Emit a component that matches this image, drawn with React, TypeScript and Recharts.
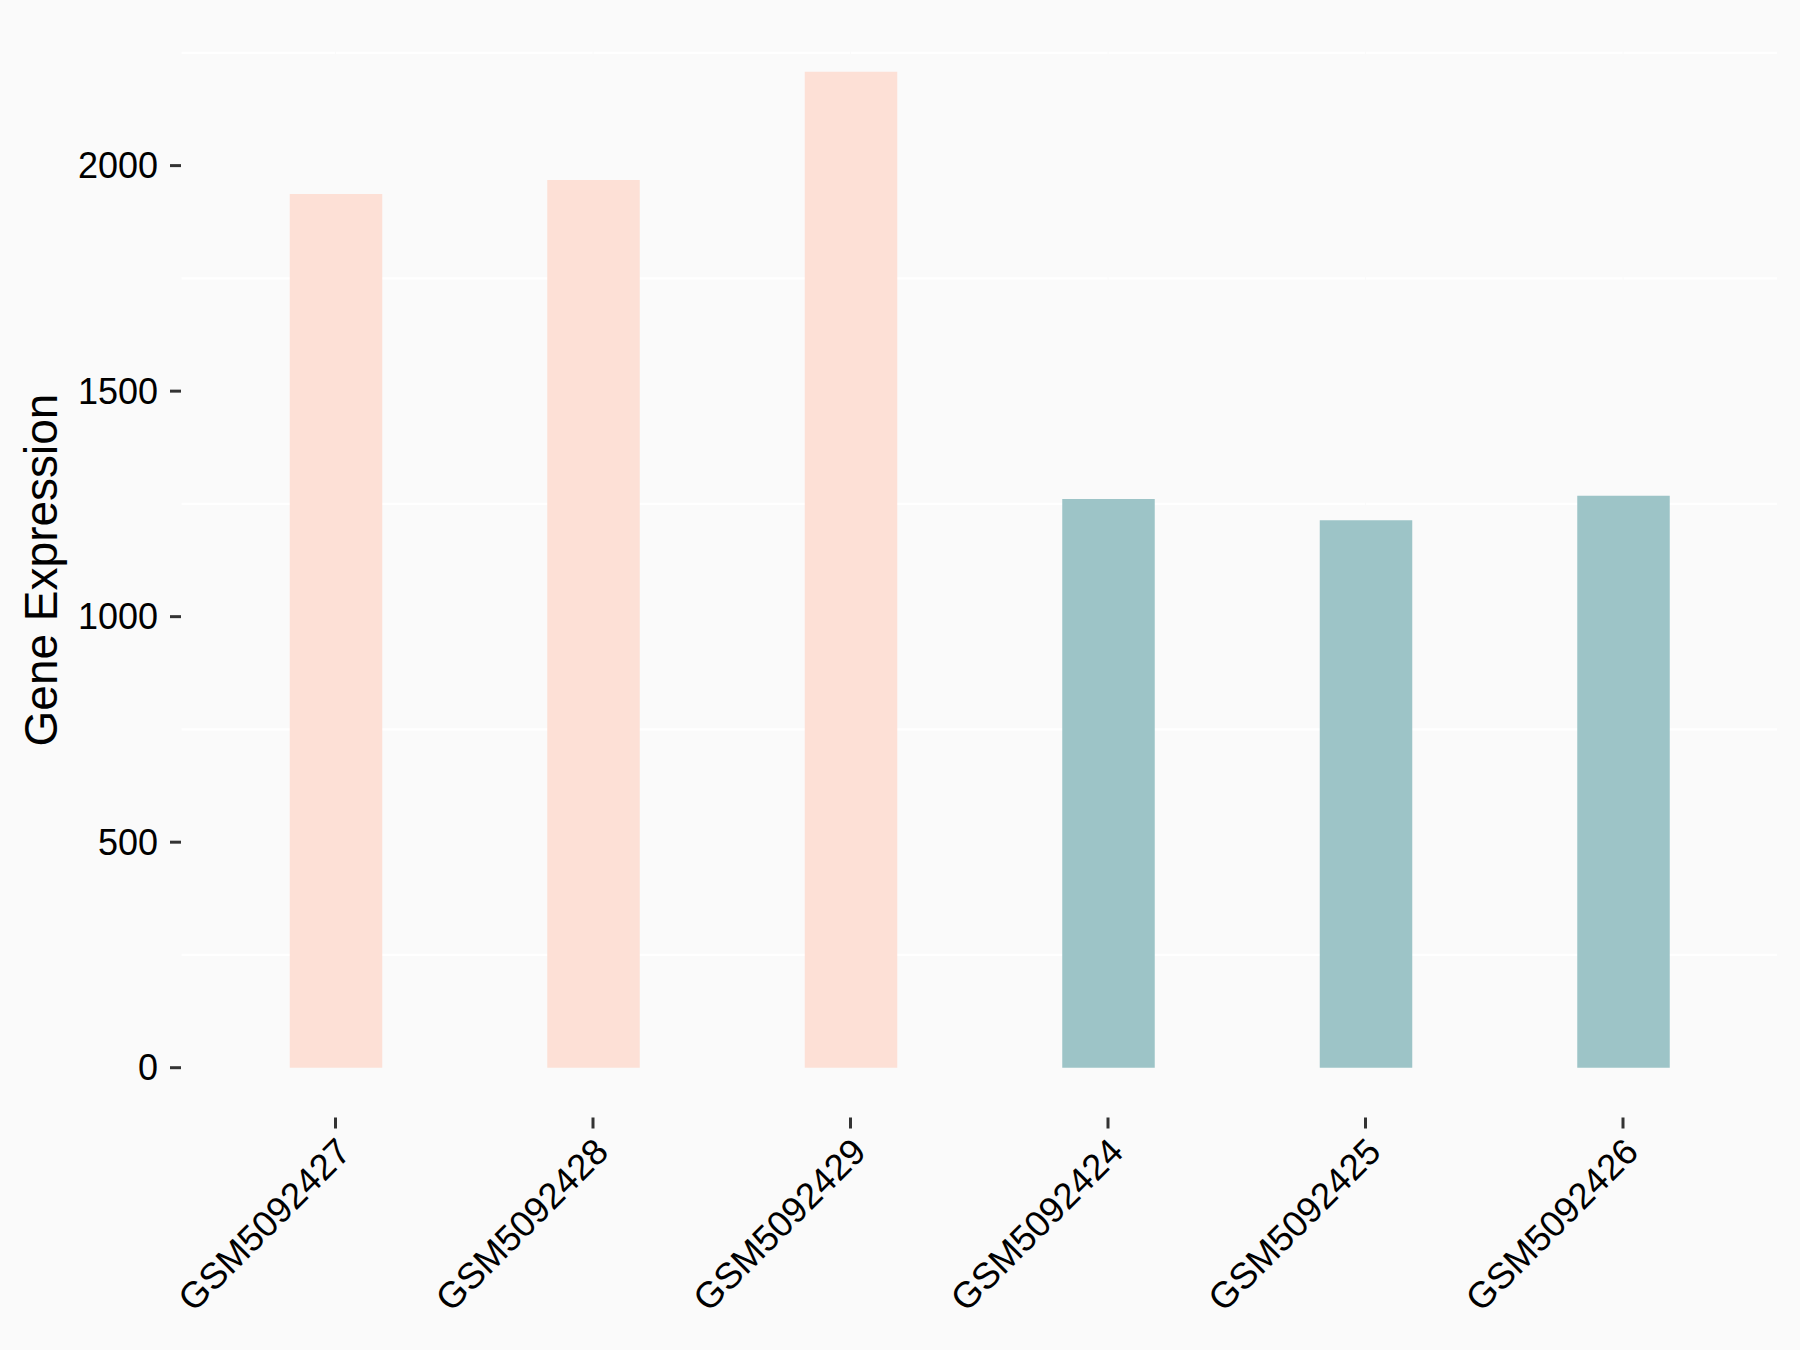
import React from "react";
import { BarChart, Bar, XAxis, YAxis, CartesianGrid, Cell } from "recharts";

const samples = ["GSM5092427", "GSM5092428", "GSM5092429", "GSM5092424", "GSM5092425", "GSM5092426"];
const expression = [1937, 1968, 2208, 1261, 1214, 1268];
const groups = ["pink", "pink", "pink", "teal", "teal", "teal"];
const yTicks = [0, 500, 1000, 1500, 2000];
const minorGrid = [250, 750, 1250, 1750, 2250];

const groupColors: Record<string, string> = { pink: "#FDE0D6", teal: "#9DC4C7" };
const font = "'Liberation Sans', Arial, Helvetica, sans-serif";

const data = samples.map((s, i) => ({ sample: s, value: expression[i], group: groups[i] }));

// rotated sample names, top-right corner hung under the tick
const RotTick = (props: any) => {
  const { x, y, payload } = props;
  return (
    <g transform={`translate(${x - 1},${y + 5})`}>
      <text
        transform="rotate(-45)"
        textAnchor="end"
        dy={26}
        fontSize={36.5}
        fontFamily={font}
        fill="#000000"
      >
        {payload.value}
      </text>
    </g>
  );
};

const YTitle = () => (
  <text
    x={57}
    y={570}
    transform="rotate(-90 57 570)"
    textAnchor="middle"
    fontSize={46}
    fontFamily={font}
    fill="#000000"
  >
    Gene Expression
  </text>
);

export default function App() {
  return (
    <div style={{ position: "absolute", left: 0, top: 0, width: 1800, height: 1350, background: "#FAFAFA" }}>
      <BarChart
        width={1800}
        height={1350}
        data={data}
        margin={{ top: 22, right: 22.5, bottom: 0, left: 0 }}
      >
        <CartesianGrid
          vertical={false}
          horizontalValues={minorGrid}
          stroke="#FFFFFF"
          strokeWidth={2.2}
        />
        <CartesianGrid horizontal={false} stroke="#FAFAFA" strokeWidth={1} />
        <XAxis
          dataKey="sample"
          padding={{ left: 25.75, right: 25.75 }}
          axisLine={false}
          tickLine={{ stroke: "#333333", strokeWidth: 3 }}
          tickSize={11}
          height={232.5}
          interval={0}
          tick={<RotTick />}
        />
        <YAxis
          type="number"
          domain={[-110.4, 2318.4]}
          allowDataOverflow
          ticks={yTicks}
          width={181}
          axisLine={false}
          tickLine={{ stroke: "#333333", strokeWidth: 3 }}
          tickSize={11}
          tickMargin={12}
          tick={{ fill: "#000000", fontSize: 36, fontFamily: font }}
          label={{ content: () => <YTitle /> }}
        />
        <Bar dataKey="value" barSize={92.5} isAnimationActive={false}>
          {data.map((d) => (
            <Cell key={d.sample} fill={groupColors[d.group]} />
          ))}
        </Bar>
      </BarChart>
    </div>
  );
}
